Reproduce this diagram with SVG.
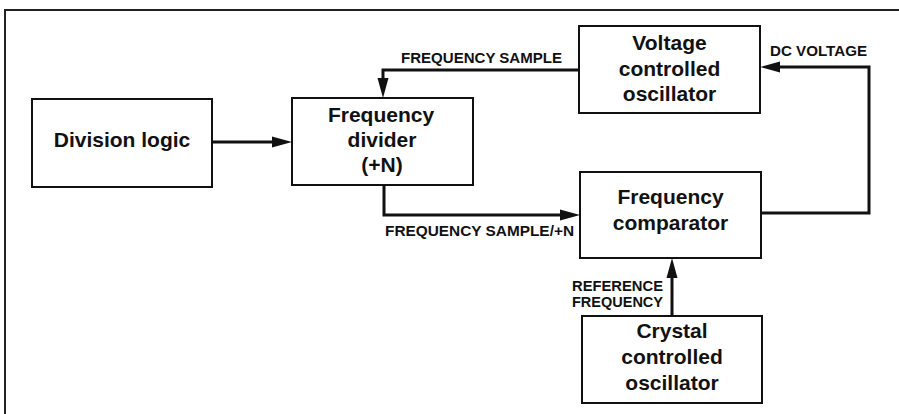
<svg xmlns="http://www.w3.org/2000/svg" width="899" height="414" viewBox="0 0 899 414">
<style>
.box{fill:#fff;stroke:#111;stroke-width:2}
.t{font-family:"Liberation Sans",Arial,sans-serif;font-weight:bold;font-size:21px;fill:#111;text-anchor:middle}
.lbl{font-family:"Liberation Sans",Arial,sans-serif;font-weight:bold;font-size:15px;fill:#111}
.wire{fill:none;stroke:#111;stroke-width:3;stroke-linejoin:miter}
.frame{fill:none;stroke:#222;stroke-width:2}
</style>
<defs>
<marker id="arr" viewBox="0 0 20 12" refX="10" refY="6" markerWidth="20" markerHeight="12" markerUnits="userSpaceOnUse" orient="auto">
<path d="M0,0.5 L20,6 L0,11.5 Z" fill="#111"/>
</marker>
</defs>
<rect width="899" height="414" fill="#fff"/>
<path class="frame" d="M5,414 V10 H899"/>

<g id="division-logic">
<rect class="box" x="32" y="99" width="180" height="88"/>
<text class="t" x="122" y="147">Division logic</text>
</g>
<g id="frequency-divider">
<rect class="box" x="292" y="98" width="181" height="87"/>
<text class="t" x="381" y="122">Frequency</text>
<text class="t" x="382" y="147">divider</text>
<text class="t" x="382" y="172">(+N)</text>
</g>
<g id="vco">
<rect class="box" x="579" y="26" width="181" height="87"/>
<text class="t" x="669.5" y="50">Voltage</text>
<text class="t" x="669.5" y="76">controlled</text>
<text class="t" x="669.5" y="101">oscillator</text>
</g>
<g id="frequency-comparator">
<rect class="box" x="580" y="172" width="181" height="86"/>
<text class="t" x="670.5" y="204">Frequency</text>
<text class="t" x="670.5" y="230">comparator</text>
</g>
<g id="crystal-oscillator">
<rect class="box" x="582" y="316" width="180" height="87"/>
<text class="t" x="672" y="338">Crystal</text>
<text class="t" x="672" y="364">controlled</text>
<text class="t" x="672" y="390">oscillator</text>
</g>

<g id="connectors">
<path class="wire" d="M212,142 H282" marker-end="url(#arr)"/>
<path class="wire" d="M579,70 H383 V88" marker-end="url(#arr)"/>
<path class="wire" d="M384,185 V215 H570" marker-end="url(#arr)"/>
<path class="wire" d="M761,213 H869 V67 H770" marker-end="url(#arr)"/>
<path class="wire" d="M672,316 V268" marker-end="url(#arr)"/>
<text class="lbl" x="401" y="63" textLength="161" lengthAdjust="spacingAndGlyphs">FREQUENCY SAMPLE</text>
<text class="lbl" x="770" y="56" textLength="97" lengthAdjust="spacingAndGlyphs">DC VOLTAGE</text>
<text class="lbl" x="385" y="236" textLength="189" lengthAdjust="spacingAndGlyphs">FREQUENCY SAMPLE/+N</text>
<text class="lbl" x="572" y="291" textLength="91" lengthAdjust="spacingAndGlyphs">REFERENCE</text>
<text class="lbl" x="572" y="307" textLength="91" lengthAdjust="spacingAndGlyphs">FREQUENCY</text>
</g>
</svg>
